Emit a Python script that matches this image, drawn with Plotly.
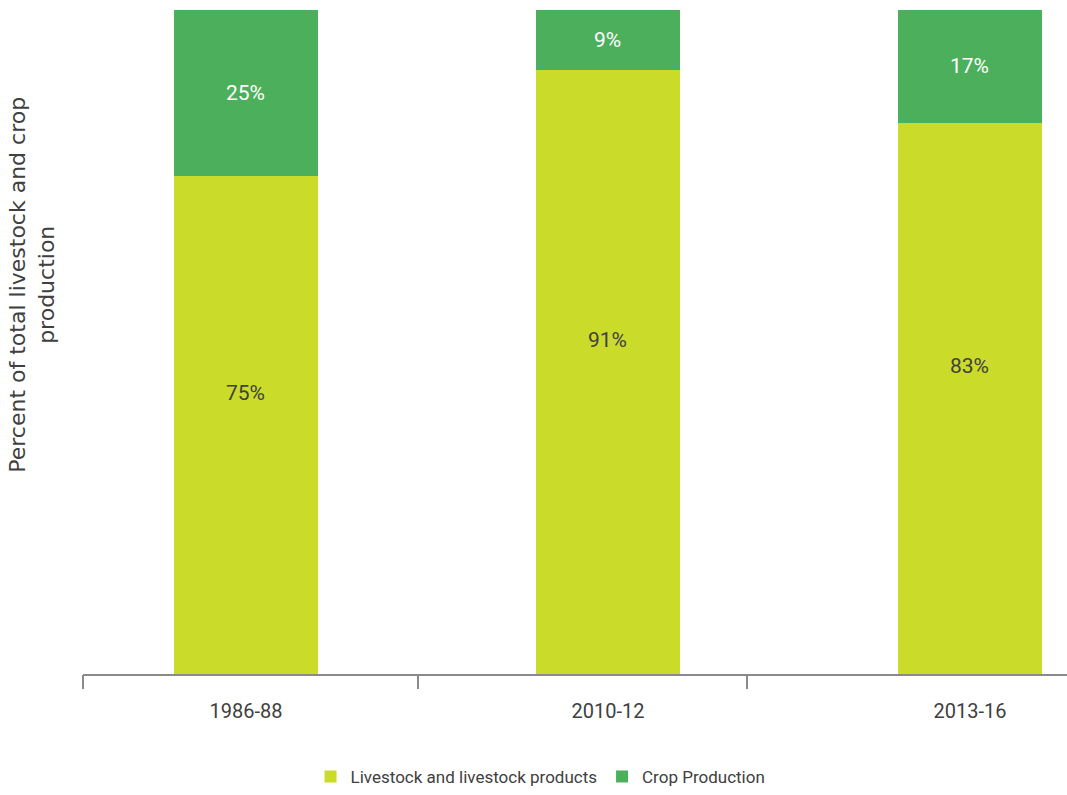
import plotly.graph_objects as go

categories = ["1986-88", "2010-12", "2013-16"]
livestock = [75, 91, 83]
crop = [25, 9, 17]
series_names = ["Livestock and livestock products", "Crop Production"]
boundary_ticks = [-0.45, 0.475, 1.384]
y_title = "Percent of total livestock and crop<br>production"

C_LIVE = "#CBDB2A"
C_CROP = "#4CAF5B"
TXT = "#404040"
NARROW = "Roboto, Liberation Sans, sans-serif"

xpos = list(range(len(categories)))

fig = go.Figure()
fig.add_trace(go.Bar(x=xpos, y=livestock, name=series_names[0], marker_color=C_LIVE,
                     width=0.40, marker_line_width=0))
fig.add_trace(go.Bar(x=xpos, y=crop, name=series_names[1], marker_color=C_CROP,
                     width=0.40, marker_line_width=0))

annotations = []
for i, (lv, cp) in enumerate(zip(livestock, crop)):
    annotations.append(dict(x=xpos[i], y=lv / 2, xref="x", yref="y", text=f"{lv}%",
                            showarrow=False, yshift=32,
                            font=dict(family=NARROW, size=21, color=TXT)))
    annotations.append(dict(x=xpos[i], y=lv + cp / 2, xref="x", yref="y", text=f"{cp}%",
                            showarrow=False, yshift=0,
                            font=dict(family=NARROW, size=21, color="white")))

annotations.append(dict(x=-0.052, y=0.586, xref="paper", yref="paper", text=y_title,
                        textangle=-90, showarrow=False, xanchor="center", yanchor="middle",
                        font=dict(family="DejaVu Sans, Verdana, sans-serif", size=22, color=TXT)))

fig.update_layout(
    barmode="stack",
    width=1067, height=795,
    margin=dict(l=83, r=0, t=10, b=121),
    paper_bgcolor="white", plot_bgcolor="white",
    bargap=0,
    xaxis=dict(range=[-0.45, 2.268], tickvals=xpos, ticktext=categories,
               ticks="outside", ticklen=18, tickcolor="rgba(0,0,0,0)",
               showline=True, linecolor="#8a8a8a", linewidth=2,
               showgrid=False, zeroline=False,
               tickfont=dict(family=NARROW, size=20, color=TXT)),
    xaxis2=dict(range=[-0.45, 2.268], overlaying="x", anchor="y", side="bottom",
                tickvals=boundary_ticks, showticklabels=False,
                ticks="outside", ticklen=14, tickwidth=2, tickcolor="#8a8a8a",
                showline=False, showgrid=False, zeroline=False),
    yaxis=dict(range=[0, 100], visible=False, showgrid=False, zeroline=False),
    legend=dict(orientation="h", x=0.465, y=-0.155, xanchor="center", yanchor="middle",
                font=dict(family=NARROW, size=17, color=TXT), traceorder="normal",
                itemwidth=30),
    showlegend=True,
    annotations=annotations,
)

fig.add_trace(go.Scatter(x=[0], y=[0], xaxis="x2", mode="markers",
                         marker=dict(opacity=0), showlegend=False, hoverinfo="skip"))

fig.write_html("out.html")
